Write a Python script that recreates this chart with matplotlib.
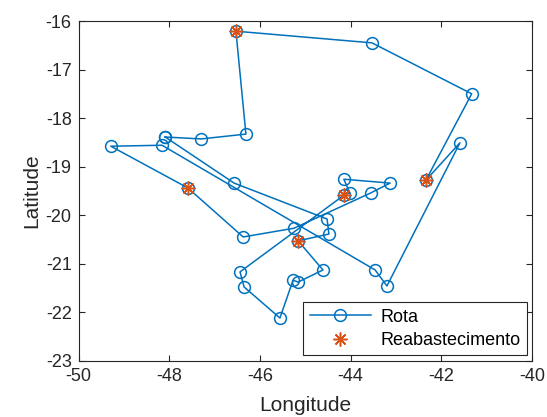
import matplotlib
matplotlib.use("Agg")
import matplotlib.pyplot as plt

plt.rcParams['font.family'] = ['Liberation Sans', 'DejaVu Sans']
plt.rcParams['axes.unicode_minus'] = False

# Route (closed tour)
route_lon = [-48.09, -47.30, -46.31, -46.53, -43.53, -41.33, -42.34, -41.59, -43.20, -43.46,
             -48.16, -49.29, -47.59, -46.37, -45.25, -43.55, -43.13, -44.15, -44.02, -44.15,
             -46.44, -46.35, -45.56, -45.27, -45.16, -44.61, -45.16, -44.48, -44.52, -46.57,
             -48.09]
route_lat = [-18.39, -18.43, -18.33, -16.21, -16.45, -17.50, -19.28, -18.51, -21.46, -21.13,
             -18.56, -18.58, -19.44, -20.45, -20.27, -19.54, -19.34, -19.26, -19.54, -19.59,
             -21.17, -21.48, -22.12, -21.34, -21.38, -21.13, -20.53, -20.39, -20.08, -19.34,
             -18.39]

# Refuelling stops
refuel_lon = [-46.53, -42.34, -47.59, -45.16, -44.15]
refuel_lat = [-16.21, -19.28, -19.44, -20.53, -19.59]

xticks = [-50, -48, -46, -44, -42, -40]
yticks = [-23, -22, -21, -20, -19, -18, -17, -16]

blue = '#0072BD'
orange = '#D95319'

fig = plt.figure(figsize=(5.47, 4.17), dpi=100)
ax = fig.add_axes([0.1437, 0.135, 0.8289, 0.8146])

ax.plot(route_lon, route_lat, '-', color=blue, lw=1.1, marker='o', markersize=8.5,
        markerfacecolor='none', markeredgecolor=blue, markeredgewidth=1.1, label='Rota')
ax.plot(refuel_lon, refuel_lat, linestyle='none', marker=(8, 2, 0), markersize=10,
        color=orange, markeredgewidth=1.1, label='Reabastecimento')

ax.set_xlim(-50, -40)
ax.set_ylim(-23, -16)
ax.set_xticks(xticks)
ax.set_yticks(yticks)
ax.tick_params(direction='in', top=True, right=True, length=4, width=0.8,
               labelsize=13, colors='#262626', pad=5)
for s in ax.spines.values():
    s.set_color('#262626')
    s.set_linewidth(0.8)
ax.set_xlabel('Longitude', fontsize=15, color='#262626', labelpad=8)
ax.set_ylabel('Latitude', fontsize=15, color='#262626', labelpad=3)

leg = ax.legend(loc='lower right', fontsize=13, frameon=True, fancybox=False,
                edgecolor='#262626', framealpha=1, borderaxespad=0.3,
                handlelength=3.4, handletextpad=0.5, borderpad=0.35, labelspacing=0.35)
leg.get_frame().set_linewidth(0.8)

fig.savefig('out.png', dpi=100)
